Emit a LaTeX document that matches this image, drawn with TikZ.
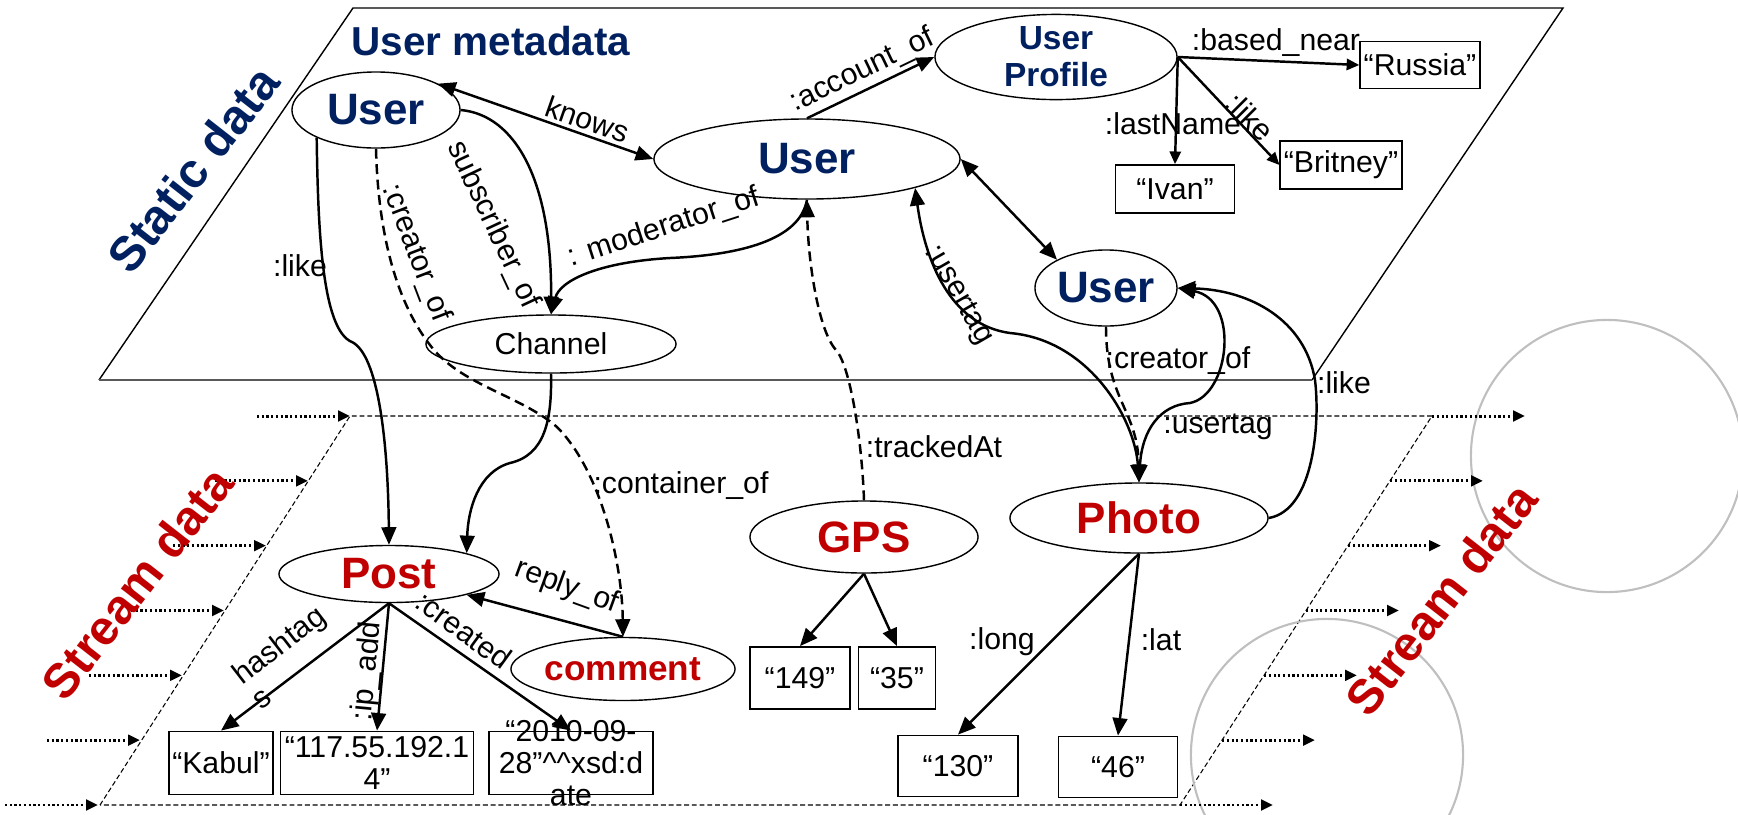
\documentclass[tikz,border=0pt]{standalone}
\usepackage{fontspec}
\setmainfont{Liberation Sans}
\usepackage{tikz}
\usetikzlibrary{shapes.geometric}
\usetikzlibrary{arrows.meta}
\definecolor{azulusr}{RGB}{0,32,96}
\definecolor{rojoflujo}{RGB}{192,0,0}

\begin{document}
\begin{tikzpicture}[x = 0.01cm, y = -0.01cm, >={Triangle[length=5pt,width=4.2pt]}]
		\tikzstyle{entidad} = [draw, shape = ellipse, line width = 0.4pt, inner sep = 0pt]
		\tikzstyle{literal} = [draw, shape = rectangle, line width = 0.5pt, inner sep = 1pt, align = center, font = \fontsize{8.6}{9}\selectfont]
		\tikzstyle{etiqueta} = [inner sep = 1pt, font = \fontsize{8.6}{9}\selectfont]
		\tikzstyle{usuario} = [entidad, text = azulusr, font = \fontsize{12.5}{13}\selectfont\bfseries]
		\tikzstyle{flujo} = [entidad, text = rojoflujo, font = \fontsize{12.5}{13}\selectfont\bfseries]
		\tikzstyle{enlace} = [line width = 0.7pt]
		\tikzstyle{discontinuo} = [enlace, dash pattern = on 2.8pt off 1.6pt]
		\tikzstyle{borde} = [line width = 0.3pt, dash pattern = on 1.4pt off 0.8pt]
		\tikzstyle{entrada} = [line width = 0.85pt, dash pattern = on 0.6pt off 0.75pt, -{Triangle[length=3.4pt,width=3pt]}]
		\tikzstyle{titulo} = [font = \fontsize{13.8}{15}\selectfont\bfseries]

		\useasboundingbox (0, 0) rectangle (1738, 814);

	% Fondo
		\draw[line width = 0.4pt] (99, 380) -- (353, 8) -- (1563, 8) -- (1312, 380);
		\draw[line width = 0.7pt, black!65] (99, 380) -- (1312, 380);
		\draw[borde] (100, 805) -- (350, 416) -- (1432, 416) -- (1180, 805) -- cycle;
		\draw[black!25, line width = 0.6pt] (1607, 456) circle [radius = 1.36cm];
		\draw[black!25, line width = 0.6pt] (1327, 755) circle [radius = 1.36cm];
		\foreach \i in {0,...,6} {
			\pgfmathsetmacro{\yy}{416 + \i*64.83}
			\pgfmathsetmacro{\xl}{350 - \i*42}
			\pgfmathsetmacro{\xr}{1432 - \i*42}
			\draw[entrada] (\xl - 93, \yy) -- (\xl, \yy);
			\draw[entrada] (\xr, \yy) -- (\xr + 93, \yy);
		}

		\node[titulo, text = azulusr, rotate = 52] (estatico) at (193, 169) {Static data};
		\node[titulo, text = rojoflujo, rotate = 52] (flujoizq) at (137, 583) {Stream data};
		\node[titulo, text = rojoflujo, rotate = 52] (flujoder) at (1441, 599) {Stream data};
		\node[font = \fontsize{11.5}{13}\selectfont\bfseries, text = azulusr] (metadatos) at (491, 41) {User metadata};

	% Nodos
		\node[usuario, minimum width = 16.8mm, minimum height = 7.6mm] (usuario1) at (376, 110) {User};
		\node[usuario, minimum width = 30.6mm, minimum height = 8mm] (usuario2) at (807, 159) {User};
		\node[usuario, minimum width = 14.2mm, minimum height = 7.6mm] (usuario3) at (1106, 288) {User};
		\node[usuario, minimum width = 24.2mm, minimum height = 8.2mm, align = center, font = \fontsize{9.5}{10.5}\selectfont\bfseries] (perfil) at (1056, 57) {User\\Profile};
		\node[entidad, minimum width = 25mm, minimum height = 5.8mm, font = \fontsize{8.6}{9}\selectfont] (canal) at (551, 344) {Channel};
		\node[flujo, minimum width = 22mm, minimum height = 5.7mm] (post) at (389, 574) {Post};
		\node[flujo, minimum width = 22.4mm, minimum height = 6.3mm, font = \fontsize{10}{12}\selectfont\bfseries] (comentario) at (623, 669) {comment};
		\node[flujo, minimum width = 22.8mm, minimum height = 7.2mm] (gps) at (864, 537) {GPS};
		\node[flujo, minimum width = 25.8mm, minimum height = 7mm] (foto) at (1139, 518) {Photo};

		\node[literal, minimum width = 11.9mm, minimum height = 4.7mm] (rusia) at (1420, 65) {“Russia”};
		\node[literal, minimum width = 11.9mm, minimum height = 4.8mm] (ivan) at (1175, 189) {“Ivan”};
		\node[literal, minimum width = 11.8mm, minimum height = 4.8mm] (britney) at (1341, 165) {“Britney”};
		\node[literal, minimum width = 10mm, minimum height = 6.3mm] (kabul) at (221, 763) {“Kabul”};
		\node[literal, minimum width = 19.3mm, minimum height = 6.3mm] (ip) at (377, 763) {“117.55.192.1\\4”};
		\node[literal, minimum width = 16.4mm, minimum height = 6.3mm] (fecha) at (571, 763) {};
		\node[etiqueta, align = center] (fechatexto) at (fecha) {“2010-09-\\28”\textasciicircum\textasciicircum xsd:d\\ate};
		\node[literal, minimum width = 10mm, minimum height = 6.2mm] (n149) at (800, 678) {“149”};
		\node[literal, minimum width = 7.7mm, minimum height = 6.2mm] (n35) at (897, 678) {“35”};
		\node[literal, minimum width = 12mm, minimum height = 6.1mm] (n130) at (958, 766) {“130”};
		\node[literal, minimum width = 11.9mm, minimum height = 6.1mm] (n46) at (1118, 767) {“46”};

	% Enlaces
		\draw[enlace, <->] (usuario1.23) -- (usuario2.west) node[etiqueta, pos = 0.67, above, sloped] (conoce) {knows};
		\draw[enlace, ->] (usuario2.north) -- (perfil.west) node[etiqueta, midway, above, sloped] (cuenta) {:account\_of};
		\draw[enlace, <->] (usuario2.east) -- (usuario3.150);

		\draw[enlace, ->] (usuario2.south) .. controls (800, 240) and (740, 255) .. (670, 258) .. controls (600, 262) and (560, 280) .. (canal.north);
		\node[etiqueta, rotate = 18] (moderador) at (664, 228) {: moderator\_of};
		\draw[enlace, ->] (usuario1.east) .. controls (515, 115) and (552, 180) .. (canal.north);
		\node[etiqueta, rotate = -65] (suscriptor) at (493, 225) {subscriber\_of};

		\draw[discontinuo, ->] (usuario1.south) .. controls (378, 230) and (395, 300) .. (430, 345) .. controls (460, 385) and (520, 395) .. (557, 427) .. controls (600, 470) and (622, 560) .. (comentario.north);
		\node[etiqueta, rotate = -69] (creador1) at (416, 253) {:creator\_of};
		\node[etiqueta] (contenedor) at (681, 486) {:container\_of};

		\draw[enlace, ->] (usuario1.205) .. controls (318, 230) and (322, 330) .. (352, 342) .. controls (378, 355) and (388, 440) .. (post.north);
		\node[etiqueta] (gusta1) at (300, 266) {:like};
		\draw[enlace, ->] (canal.south) .. controls (552, 420) and (545, 455) .. (510, 463) .. controls (478, 472) and (468, 510) .. (post.15);
		\draw[enlace, ->] (comentario.north) -- (post.-15);
		\node[etiqueta, rotate = -20] (respuesta) at (567, 587) {reply\_of};

		\draw[discontinuo, ->] (gps.north) .. controls (862, 440) and (850, 365) .. (836, 350) .. controls (818, 330) and (808, 260) .. (usuario2.south);
		\node[etiqueta] (rastreo) at (934, 447) {:trackedAt};
		\draw[enlace, ->] (gps.south) -- (n149.north);
		\draw[enlace, ->] (gps.south) -- (n35.north);

		\draw[enlace, ->] (foto.south) -- (n130.north);
		\draw[enlace, ->] (foto.south) -- (n46.north);
		\node[etiqueta] (largo) at (1002, 642) {:long};
		\node[etiqueta] (lat) at (1161, 640) {:lat};

		\draw[enlace, ->] (post.south) -- (kabul.north);
		\draw[enlace, ->] (post.south) -- (ip.north);
		\draw[enlace, ->] (post.south) -- (fecha.north);
		\node[etiqueta, rotate = 37.6, align = left] (hashtag) at (288, 657) {hashtag\\s};
		\node[etiqueta, rotate = 84.6] (ipadd) at (368, 671) {:ip\_add};
		\node[etiqueta, rotate = -36] (creado) at (464, 630) {:created};

		\draw[enlace, ->, >={Triangle[length=3.6pt,width=3.2pt]}] (perfil.east) -- (rusia.west);
		\draw[enlace, ->, >={Triangle[length=3.6pt,width=3.2pt]}] (perfil.east) -- (ivan.north);
		\draw[enlace, ->, >={Triangle[length=3.6pt,width=3.2pt]}] (perfil.east) -- (britney.west);
		\node[etiqueta] (cerca) at (1276, 43) {:based\_near};
		\node[etiqueta] (apellido) at (1173, 124) {:lastName};
		\node[etiqueta, rotate = -45] (gusta3) at (1250, 117) {:like};

		\draw[discontinuo, ->] (usuario3.south) .. controls (1106, 400) and (1138, 410) .. (foto.north);
		\node[etiqueta] (creador2) at (1178, 361) {:creator\_of};
		\draw[enlace, <->] (usuario2.-15) .. controls (925, 260) and (950, 325) .. (1010, 333) .. controls (1090, 340) and (1135, 420) .. (foto.north);
		\node[etiqueta, rotate = -60] (etiquetado1) at (958, 295) {:usertag};
		\draw[enlace, <->] (foto.north) .. controls (1142, 430) and (1160, 405) .. (1190, 403) .. controls (1230, 395) and (1240, 300) .. (usuario3.east);
		\node[etiqueta] (etiquetado2) at (1218, 427) {:usertag};
		\draw[enlace, ->] (foto.east) .. controls (1315, 510) and (1320, 420) .. (1315, 380) .. controls (1305, 320) and (1250, 290) .. (usuario3.east);
		\node[etiqueta] (gusta2) at (1344, 383) {:like};

	\end{tikzpicture}
\end{document}
